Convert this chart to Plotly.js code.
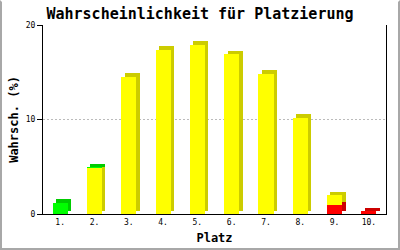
<!DOCTYPE html>
<html>
<head>
<meta charset="utf-8">
<script src="https://cdn.plot.ly/plotly-3.0.1.min.js"></script>
<style>
  html, body { margin: 0; padding: 0; background: #fff; }
  #wrap { position: relative; width: 400px; height: 250px; }
  #chart { position: absolute; left: 0; top: 0; width: 400px; height: 250px; }
  #frame { position: absolute; left: 0; top: 0; width: 396px; height: 246px;
           border: 2px solid #a8a8a8; border-top-color: #fff; pointer-events: none; }
</style>
</head>
<body>
<div id="wrap">
  <div id="chart"></div>
  <div id="frame"></div>
</div>
<script>
// Platzierung (ranking place) and probability in percent, split into three zones
const platz = ['1.', '2.', '3.', '4.', '5.', '6.', '7.', '8.', '9.', '10.'];
const rot   = [0, 0, 0, 0, 0, 0, 0, 0, 0.95, 0.3];
const gelb  = [0, 4.9, 14.5, 17.4, 17.9, 16.9, 14.85, 10.2, 1.05, 0];
const gruen = [1.2, 0.05, 0, 0, 0, 0, 0, 0, 0, 0];

// stacking order, bottom to top
const stapel = [
  { werte: rot,   vorne: '#ff0000', seite: '#cc0000' },
  { werte: gelb,  vorne: '#ffff00', seite: '#cccc00' },
  { werte: gruen, vorne: '#00ff00', seite: '#00cc00' }
];

// pseudo-3D depth (x in category units, y in percent)
const TIEFE_X = 0.1;
const TIEFE_Y = 0.37;
const BREITE = 0.44;

const basis = platz.map(() => 0);
const hinten = [];
const vorne = [];
stapel.forEach(s => {
  const b = basis.slice();
  const top = s.werte.map((v, i) => b[i] + v);
  // side + top face: shifted right and up, drawn behind the front face
  const hBase = top.map((t, i) => Math.min(b[i] + TIEFE_Y, t));
  hinten.push({
    type: 'bar', x: platz,
    y: s.werte.map((v, i) => v > 0 ? top[i] + TIEFE_Y - hBase[i] : null),
    base: hBase,
    offset: -BREITE / 2 + TIEFE_X, width: BREITE,
    marker: { color: s.seite, line: { width: 0 } },
    hoverinfo: 'skip', showlegend: false
  });
  vorne.push({
    type: 'bar', x: platz,
    y: s.werte.map(v => v > 0 ? v : null),
    base: b,
    offset: -BREITE / 2, width: BREITE,
    marker: { color: s.vorne, line: { width: 0 } },
    hoverinfo: 'skip', showlegend: false
  });
  s.werte.forEach((v, i) => { basis[i] += v; });
});

const mono = 'DejaVu Sans Mono, Liberation Mono, monospace';

const layout = {
  width: 400, height: 250,
  margin: { l: 43, r: 14, t: 25, b: 36 },
  paper_bgcolor: '#ffffff', plot_bgcolor: '#ffffff',
  barmode: 'overlay',
  bargap: 0,
  title: {
    text: 'Wahrscheinlichkeit für Platzierung',
    font: { family: mono, size: 15, color: '#000', weight: 'bold' },
    x: 0.5, xref: 'container', xanchor: 'center',
    y: 0.944, yref: 'container', yanchor: 'middle'
  },
  xaxis: {
    type: 'category',
    range: [-0.5, 9.5],
    showline: true, linecolor: '#000', linewidth: 1,
    showgrid: false, zeroline: false,
    ticks: '', tickfont: { family: mono, size: 8, color: '#000' },
    title: { text: 'Platz', standoff: 8,
             font: { family: mono, size: 12, color: '#000', weight: 'bold' } },
    fixedrange: true
  },
  yaxis: {
    range: [0, 20],
    tickvals: [0, 10, 20],
    showline: true, mirror: true, linecolor: '#000', linewidth: 1,
    showgrid: true, gridcolor: '#bbbbbb', griddash: '2px,2px', gridwidth: 1,
    zeroline: false,
    ticks: 'outside', ticklen: 5, tickcolor: '#000',
    tickfont: { family: mono, size: 8, color: '#000' },
    title: { text: 'Wahrsch. (%)', standoff: 4,
             font: { family: mono, size: 12, color: '#000', weight: 'bold' } },
    fixedrange: true
  }
};

Plotly.newPlot('chart', hinten.concat(vorne), layout, { staticPlot: true, displayModeBar: false });
</script>
</body>
</html>
